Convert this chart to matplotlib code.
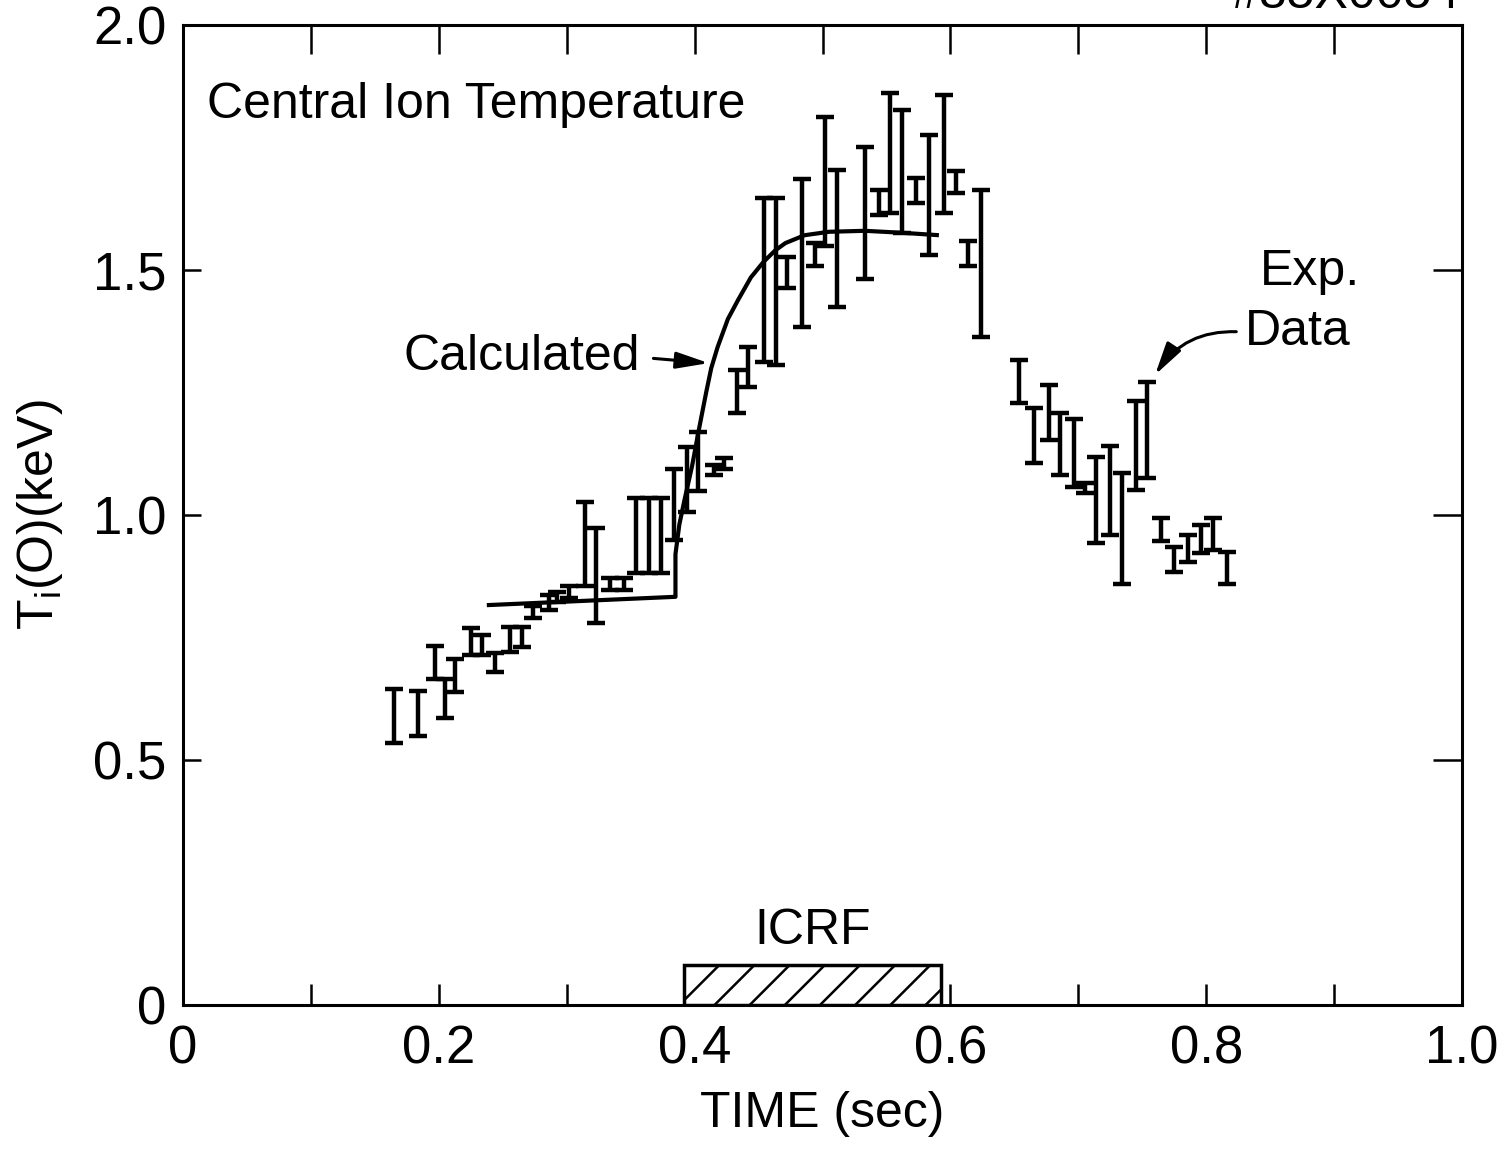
import numpy as np
import matplotlib
matplotlib.use("Agg")
import matplotlib.pyplot as plt
from matplotlib.patches import Rectangle

plt.rcParams["font.family"] = ["Liberation Sans Narrow", "Liberation Sans", "DejaVu Sans"]

# ─── data ────────────────────────────────────────────────────────────────────
t_exp = [0.165, 0.184, 0.197, 0.205, 0.213, 0.225, 0.234, 0.244, 0.256, 0.265,
         0.274, 0.286, 0.292, 0.302, 0.314, 0.323, 0.334, 0.345, 0.354, 0.364,
         0.374, 0.384, 0.394, 0.403, 0.415, 0.423, 0.433, 0.442, 0.454, 0.464,
         0.472, 0.484, 0.494, 0.502, 0.511, 0.533, 0.544, 0.553, 0.562, 0.573,
         0.583, 0.595, 0.604, 0.614, 0.624, 0.654, 0.665, 0.677, 0.686, 0.697,
         0.705, 0.714, 0.725, 0.734, 0.745, 0.754, 0.765, 0.775, 0.786, 0.796,
         0.805, 0.816]
ti_hi = [0.645, 0.641, 0.733, 0.665, 0.706, 0.769, 0.755, 0.718, 0.772, 0.772,
         0.814, 0.837, 0.843, 0.855, 1.027, 0.973, 0.871, 0.871, 1.034, 1.034,
         1.034, 1.094, 1.139, 1.170, 1.102, 1.116, 1.296, 1.343, 1.647, 1.647,
         1.527, 1.686, 1.555, 1.812, 1.704, 1.752, 1.663, 1.862, 1.827, 1.688,
         1.776, 1.857, 1.703, 1.560, 1.663, 1.316, 1.218, 1.265, 1.209, 1.196,
         1.066, 1.118, 1.141, 1.086, 1.233, 1.272, 0.994, 0.935, 0.959, 0.980,
         0.994, 0.925]
ti_lo = [0.535, 0.549, 0.665, 0.586, 0.639, 0.714, 0.714, 0.679, 0.721, 0.731,
         0.790, 0.806, 0.823, 0.830, 0.855, 0.779, 0.847, 0.847, 0.882, 0.882,
         0.882, 0.949, 1.007, 1.048, 1.082, 1.094, 1.208, 1.262, 1.313, 1.306,
         1.463, 1.383, 1.508, 1.549, 1.425, 1.481, 1.612, 1.616, 1.575, 1.637,
         1.531, 1.616, 1.657, 1.508, 1.364, 1.229, 1.107, 1.153, 1.082, 1.058,
         1.045, 0.943, 0.959, 0.859, 1.051, 1.075, 0.946, 0.884, 0.905, 0.922,
         0.929, 0.859]

t_calc = [0.2375, 0.385, 0.385, 0.388, 0.392, 0.398, 0.403, 0.409, 0.413, 0.418,
          0.426, 0.434, 0.444, 0.454, 0.463, 0.471, 0.486, 0.505, 0.533, 0.562,
          0.591]
ti_calc = [0.816, 0.833, 0.92, 0.98, 1.03, 1.10, 1.17, 1.25, 1.30, 1.343,
           1.40, 1.439, 1.485, 1.517, 1.540, 1.555, 1.571, 1.578, 1.580, 1.576,
           1.571]

icrf_on, icrf_off, icrf_h = 0.392, 0.593, 0.082

x_ticks = [0, 0.2, 0.4, 0.6, 0.8, 1.0]
x_ticklabels = ["0", "0.2", "0.4", "0.6", "0.8", "1.0"]
y_ticks = [0, 0.5, 1.0, 1.5, 2.0]
y_ticklabels = ["0", "0.5", "1.0", "1.5", "2.0"]

# ─── figure ──────────────────────────────────────────────────────────────────
fig = plt.figure(figsize=(15.08, 11.53), dpi=100)
ax = fig.add_axes([0.1214, 0.1284, 0.8481, 0.8499])
ax.set_xlim(0, 1.0)
ax.set_ylim(0, 2.0)

lo = np.array(ti_lo)
hi = np.array(ti_hi)
mid = (lo + hi) / 2
ax.errorbar(t_exp, mid, yerr=[mid - lo, hi - mid], fmt="none", ecolor="black",
            elinewidth=3.2, capsize=6.5, capthick=3.2)

ax.plot(t_calc, ti_calc, color="black", lw=3.0, solid_capstyle="butt")

# ICRF pulse box with sparse hatching
box = Rectangle((icrf_on, 0), icrf_off - icrf_on, icrf_h, facecolor="white",
                edgecolor="black", lw=2.5, zorder=3)
ax.add_patch(box)
pos = ax.get_position()
px_x = 1508 * pos.width / 1.0
px_y = 1153 * pos.height / 2.0
dx = icrf_h * px_y / px_x
for x0 in np.arange(icrf_on - dx, icrf_off, 0.0275):
    ln, = ax.plot([x0, x0 + dx], [0, icrf_h], color="black", lw=1.8, zorder=4)
    ln.set_clip_path(box)
ax.text((icrf_on + icrf_off) / 2, 0.105, "ICRF", ha="center", va="bottom", fontsize=36)

# ticks
ax.set_xticks(x_ticks)
ax.set_xticklabels(x_ticklabels)
ax.set_xticks(np.arange(0.1, 1.0, 0.2), minor=True)
ax.set_yticks(y_ticks)
ax.set_yticklabels(y_ticklabels)
ax.tick_params(axis="x", which="both", direction="in", length=15, width=1.8,
               top=False, labelsize=38, pad=14)
ax.tick_params(axis="y", which="both", direction="in", length=13, width=1.8,
               right=False, labelsize=38, pad=12)
sec_x = ax.secondary_xaxis("top")
sec_x.set_xticks(np.arange(0.1, 1.0, 0.1))
sec_x.tick_params(direction="in", length=21, width=1.8, labeltop=False)
sec_x.spines["top"].set_visible(False)
sec_y = ax.secondary_yaxis("right")
sec_y.set_yticks([0.5, 1.0, 1.5])
sec_y.tick_params(direction="in", length=21, width=1.8, labelright=False)
sec_y.spines["right"].set_visible(False)
for sp in ax.spines.values():
    sp.set_linewidth(2.2)

ax.set_xlabel("TIME (sec)", fontsize=36, labelpad=12)
ax.set_ylabel(r"T$_\mathregular{i}$(O)(keV)", fontsize=36, labelpad=20)

ax.text(0.019, 1.837, "Central Ion Temperature", fontsize=36, va="center", ha="left")
arrow_kw = dict(arrowstyle="-|>,head_length=0.55,head_width=0.14",
                color="black", lw=2.2, shrinkB=0)
ax.annotate("Calculated", xy=(0.411, 1.310), xytext=(0.172, 1.322),
            fontsize=36, va="center", ha="left",
            arrowprops=dict(arrow_kw, shrinkA=8, relpos=(1.0, 0.5)))
ax.text(0.842, 1.496, "Exp.", fontsize=36, va="center", ha="left")
ax.annotate("Data", xy=(0.760, 1.286), xytext=(0.830, 1.373),
            fontsize=36, va="center", ha="left",
            arrowprops=dict(arrow_kw, shrinkA=4, relpos=(0.0, 0.5),
                            connectionstyle="arc3,rad=0.3"))

fig.text(0.968, 1.004, "#85X0054", fontsize=36, ha="right", va="center")

fig.savefig("out.png", dpi=100)
